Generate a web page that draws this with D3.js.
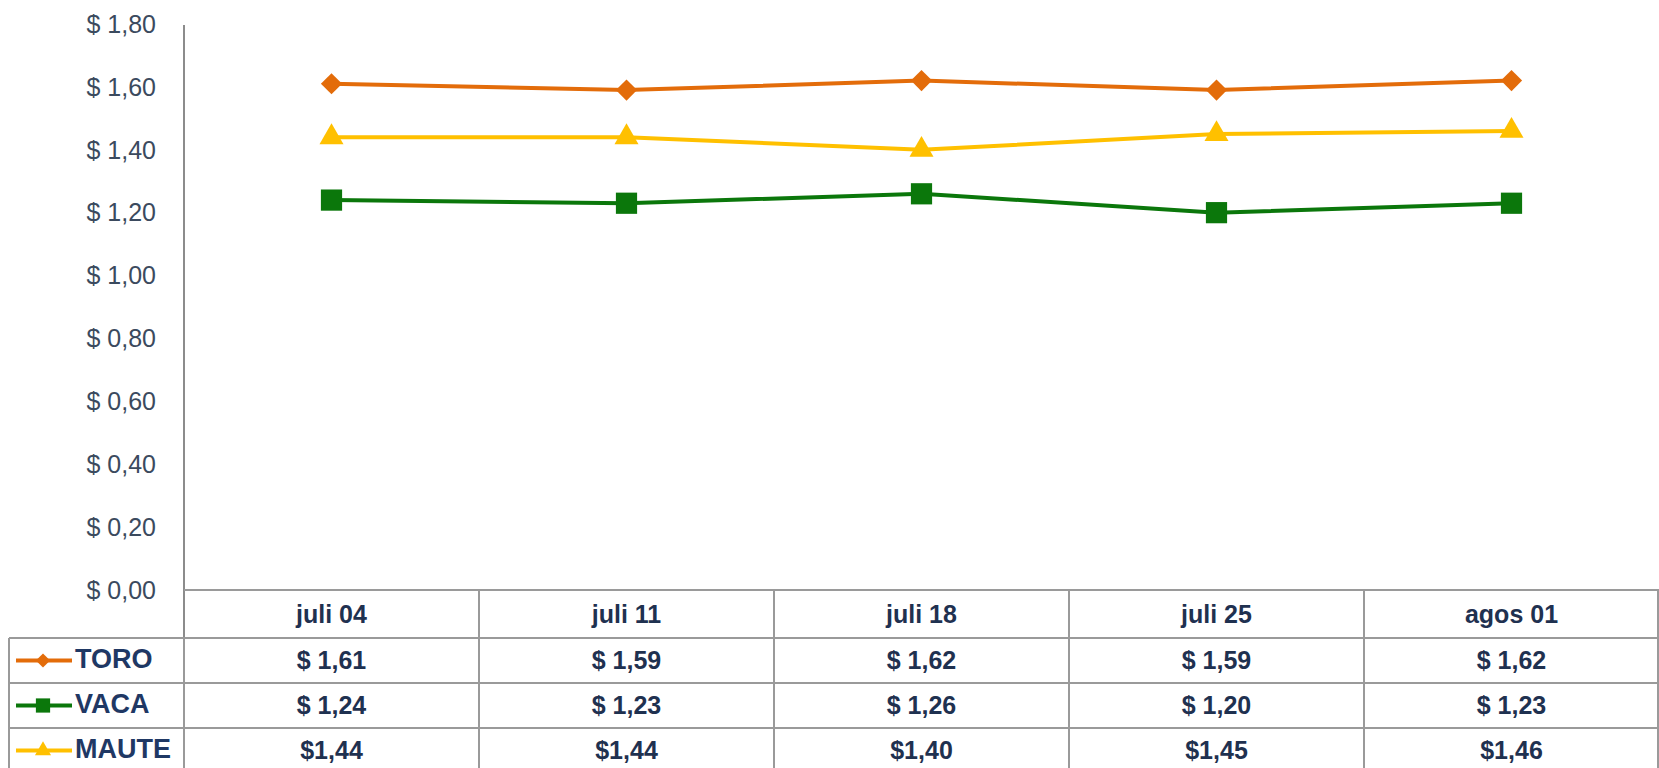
<!DOCTYPE html>
<html>
<head>
<meta charset="utf-8">
<script src="https://cdn.jsdelivr.net/npm/d3@7.9.0/dist/d3.min.js"></script>
<style>
  body { margin: 0; background: #fff; }
  svg { display: block; }
</style>
</head>
<body>
<svg id="chart" width="1659" height="768"></svg>
<script>
const dates = ["juli 04", "juli 11", "juli 18", "juli 25", "agos 01"];
const toro = [1.61, 1.59, 1.62, 1.59, 1.62];
const vaca = [1.24, 1.23, 1.26, 1.20, 1.23];
const maute = [1.44, 1.44, 1.40, 1.45, 1.46];
const yTicks = [0, 0.2, 0.4, 0.6, 0.8, 1.0, 1.2, 1.4, 1.6, 1.8];

const series = [
  { name: "TORO", values: toro, color: "#E36C0A", symbol: d3.symbolSquare, size: 225, rot: 45, fmt: v => "$ " + v.toFixed(2).replace(".", ",") },
  { name: "VACA", values: vaca, color: "#0B770B", symbol: d3.symbolSquare, size: 450, rot: 0, fmt: v => "$ " + v.toFixed(2).replace(".", ",") },
  { name: "MAUTE", values: maute, color: "#FFC000", symbol: d3.symbolTriangle, size: 250, rot: 0, fmt: v => "$" + v.toFixed(2).replace(".", ",") }
];

const svg = d3.select("#chart");
const font = "'Liberation Sans', Arial, sans-serif";

const plotLeft = 184;
const plotRight = 1659;
const plotTop = 24;
const plotBottom = 590;
const headerBottom = 638;
const rowHeight = 45;
const gridColor = "#9a9a9a";

const xScale = d3.scaleBand().domain(dates).range([plotLeft, plotRight]);
const yScale = d3.scaleLinear().domain([0, 1.8]).range([plotBottom, plotTop]);

// y axis labels
svg.append("g")
  .selectAll("text")
  .data(yTicks)
  .join("text")
  .attr("x", 156)
  .attr("y", d => yScale(d))
  .attr("dy", "0.35em")
  .attr("text-anchor", "end")
  .style("font-family", font)
  .style("font-size", "25px")
  .style("fill", "#3b4a5e")
  .text(d => "$ " + d.toFixed(2).replace(".", ","));

// y axis line
svg.append("line")
  .attr("x1", plotLeft).attr("x2", plotLeft)
  .attr("y1", plotTop + 1).attr("y2", headerBottom)
  .attr("stroke", "#8c8c8c").attr("stroke-width", 2);

// table grid
const grid = svg.append("g").attr("stroke", gridColor).attr("stroke-width", 2);
grid.append("line")
  .attr("x1", plotLeft).attr("x2", plotRight)
  .attr("y1", plotBottom).attr("y2", plotBottom);
dates.forEach((d, i) => {
  if (i > 0) {
    grid.append("line")
      .attr("x1", xScale(d)).attr("x2", xScale(d))
      .attr("y1", plotBottom).attr("y2", 780);
  }
});
grid.append("line")
  .attr("x1", plotRight - 1).attr("x2", plotRight - 1)
  .attr("y1", plotBottom).attr("y2", 780);
grid.append("line")
  .attr("x1", 9).attr("x2", 9)
  .attr("y1", headerBottom).attr("y2", 780);
grid.append("line")
  .attr("x1", plotLeft).attr("x2", plotLeft)
  .attr("y1", headerBottom).attr("y2", 780);
series.forEach((s, i) => {
  const yy = headerBottom + i * rowHeight;
  grid.append("line")
    .attr("x1", 9).attr("x2", plotRight)
    .attr("y1", yy).attr("y2", yy);
});

// header labels
svg.append("g")
  .selectAll("text")
  .data(dates)
  .join("text")
  .attr("x", d => xScale(d) + xScale.bandwidth() / 2)
  .attr("y", (plotBottom + headerBottom) / 2)
  .attr("dy", "0.35em")
  .attr("text-anchor", "middle")
  .style("font-family", font)
  .style("font-size", "25px")
  .style("font-weight", "bold")
  .style("fill", "#1f3150")
  .text(d => d);

// table rows
series.forEach((s, i) => {
  const cy = headerBottom + i * rowHeight + rowHeight / 2;
  const row = svg.append("g");
  row.append("line")
    .attr("x1", 16).attr("x2", 72)
    .attr("y1", cy).attr("y2", cy)
    .attr("stroke", s.color).attr("stroke-width", 4);
  row.append("path")
    .attr("d", d3.symbol(s.symbol, s.size * 0.45)())
    .attr("transform", `translate(43, ${cy}) rotate(${s.rot})`)
    .attr("fill", s.color);
  row.append("text")
    .attr("x", 75)
    .attr("y", cy - 2)
    .attr("dy", "0.35em")
    .style("font-family", font)
    .style("font-size", "27px")
    .style("font-weight", "bold")
    .style("fill", "#1f3864")
    .text(s.name);
  row.selectAll("text.val")
    .data(s.values)
    .join("text")
    .attr("class", "val")
    .attr("x", (d, j) => xScale(dates[j]) + xScale.bandwidth() / 2)
    .attr("y", cy)
    .attr("dy", "0.35em")
    .attr("text-anchor", "middle")
    .style("font-family", font)
    .style("font-size", "25px")
    .style("font-weight", "bold")
    .style("fill", "#1f3150")
    .text(d => s.fmt(d));
});

// lines and markers
const line = d3.line()
  .x((d, j) => xScale(dates[j]) + xScale.bandwidth() / 2)
  .y(d => yScale(d));

series.forEach(s => {
  svg.append("path")
    .datum(s.values)
    .attr("d", line)
    .attr("fill", "none")
    .attr("stroke", s.color)
    .attr("stroke-width", 4);
  svg.append("g")
    .selectAll("path")
    .data(s.values)
    .join("path")
    .attr("d", d3.symbol(s.symbol, s.size))
    .attr("transform", (d, j) => `translate(${xScale(dates[j]) + xScale.bandwidth() / 2}, ${yScale(d)}) rotate(${s.rot})`)
    .attr("fill", s.color);
});
</script>
</body>
</html>
